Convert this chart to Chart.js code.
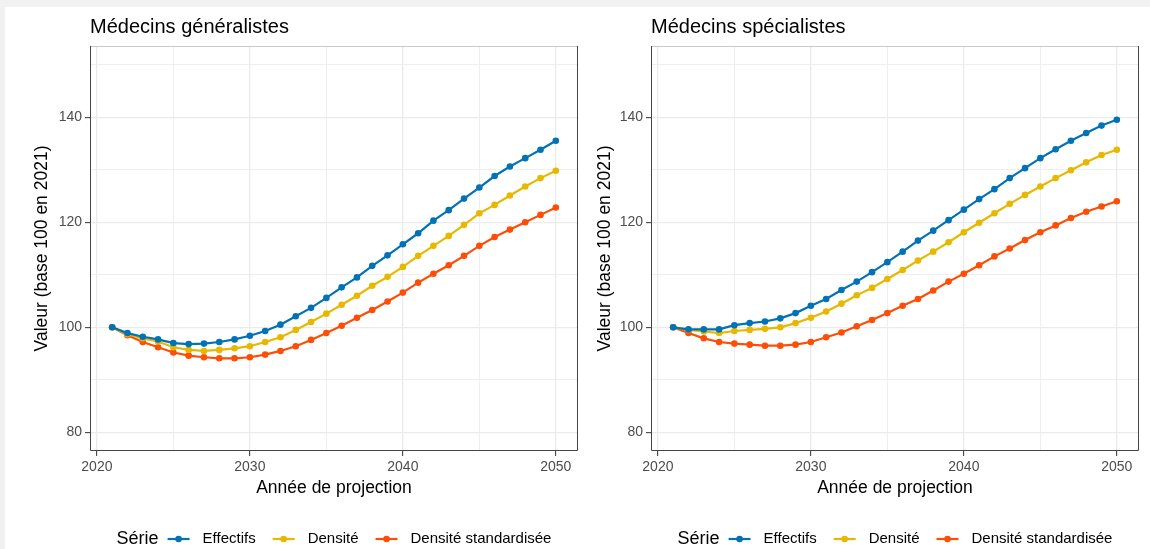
<!DOCTYPE html>
<html lang="fr">
<head>
<meta charset="utf-8">
<title>Projection des médecins</title>
<script src="https://cdn.jsdelivr.net/npm/chart.js@4.4.1/dist/chart.umd.min.js"></script>
<style>
  html, body { margin: 0; padding: 0; background: #f1f1f1; }
  body { width: 1150px; height: 549px; position: relative; overflow: hidden; }
  #card { position: absolute; left: 5px; top: 7px; right: 0; bottom: 0; background: #fff; }
  canvas { position: absolute; top: 0; }
  #cGen { left: 0; }
  #cSpe { left: 592px; }
</style>
</head>
<body>
<div id="card"></div>
<canvas id="cGen" width="592" height="549"></canvas>
<canvas id="cSpe" width="558" height="549"></canvas>
<script>
// années de projection
const annees = [2021, 2022, 2023, 2024, 2025, 2026, 2027, 2028, 2029, 2030,
  2031, 2032, 2033, 2034, 2035, 2036, 2037, 2038, 2039, 2040,
  2041, 2042, 2043, 2044, 2045, 2046, 2047, 2048, 2049, 2050];

const series = ["Effectifs", "Densité", "Densité standardisée"];
const couleurs = ["#0072B5", "#E7B800", "#FC4E07"];

// médecins généralistes
const genEffectifs = [100, 98.9, 98.2, 97.7, 97.0, 96.8, 96.9, 97.2, 97.7, 98.4,
  99.3, 100.5, 102.1, 103.7, 105.6, 107.6, 109.5, 111.7, 113.7, 115.8,
  117.9, 120.3, 122.3, 124.5, 126.6, 128.8, 130.6, 132.2, 133.8, 135.5];
const genDensite = [100, 98.7, 97.9, 97.3, 96.2, 95.7, 95.5, 95.7, 96.0, 96.4,
  97.2, 98.1, 99.5, 101.0, 102.6, 104.3, 106.0, 107.9, 109.6, 111.5,
  113.6, 115.5, 117.4, 119.5, 121.7, 123.3, 125.1, 126.8, 128.4, 129.8];
const genStandard = [100, 98.5, 97.2, 96.2, 95.2, 94.6, 94.3, 94.1, 94.1, 94.3,
  94.8, 95.5, 96.4, 97.6, 98.9, 100.3, 101.8, 103.3, 104.9, 106.6,
  108.5, 110.2, 111.8, 113.6, 115.5, 117.2, 118.6, 120.0, 121.4, 122.8];

// médecins spécialistes
const speEffectifs = [100, 99.6, 99.6, 99.6, 100.4, 100.8, 101.1, 101.7, 102.7, 104.1,
  105.4, 107.1, 108.7, 110.5, 112.4, 114.4, 116.5, 118.4, 120.4, 122.4,
  124.4, 126.3, 128.4, 130.3, 132.2, 133.9, 135.5, 137.0, 138.4, 139.5];
const speDensite = [100, 99.5, 99.2, 98.9, 99.3, 99.5, 99.7, 100.0, 100.8, 101.8,
  103.0, 104.5, 106.1, 107.5, 109.2, 110.9, 112.7, 114.4, 116.2, 118.1,
  119.9, 121.7, 123.5, 125.2, 126.8, 128.4, 129.9, 131.4, 132.8, 133.8];
const speStandard = [100, 98.9, 97.9, 97.2, 96.9, 96.7, 96.5, 96.5, 96.7, 97.2,
  98.1, 99.0, 100.2, 101.4, 102.7, 104.1, 105.4, 107.0, 108.7, 110.2,
  111.8, 113.5, 115.0, 116.6, 118.1, 119.4, 120.8, 122.0, 123.0, 124.0];

const xTicks = [2020, 2025, 2030, 2035, 2040, 2045, 2050];
const yTicks = [80, 90, 100, 110, 120, 130, 140, 150];

const POLICE = '"Liberation Sans", Arial, Helvetica, sans-serif';

// titre du panneau, aligné sur la zone de tracé (comme ggplot)
const titrePlugin = {
  id: "titrePanneau",
  afterDraw(chart, args, opts) {
    const { ctx, chartArea } = chart;
    ctx.save();
    ctx.font = "20px " + POLICE;
    ctx.fillStyle = "#000";
    ctx.textBaseline = "alphabetic";
    ctx.textAlign = "left";
    ctx.fillText(opts.text, chartArea.left, 33);
    ctx.restore();
  },
};

// cadre du panneau
const cadrePlugin = {
  id: "cadre",
  afterDraw(chart) {
    const { ctx, chartArea: a } = chart;
    ctx.save();
    ctx.lineWidth = 1;
    ctx.strokeStyle = "#c8c8c8";
    ctx.beginPath();
    ctx.moveTo(a.left, a.top + 0.5);
    ctx.lineTo(a.right, a.top + 0.5);
    ctx.stroke();
    ctx.strokeStyle = "#444";
    ctx.beginPath();
    ctx.moveTo(a.left + 0.5, a.top);
    ctx.lineTo(a.left + 0.5, a.bottom - 0.5);
    ctx.lineTo(a.right - 0.5, a.bottom - 0.5);
    ctx.lineTo(a.right - 0.5, a.top);
    ctx.stroke();
    ctx.restore();
  },
};

// légende "Série" façon ggplot, centrée sous le panneau
const legendePlugin = {
  id: "legendeSerie",
  afterDraw(chart) {
    const { ctx, chartArea } = chart;
    const y = 539;
    const keyW = 22, gapTitre = 9, gapKey = 13, gapItem = 17;
    ctx.save();
    ctx.textBaseline = "middle";
    ctx.textAlign = "left";
    ctx.font = "18px " + POLICE;
    const wTitre = ctx.measureText("Série").width;
    ctx.font = "15px " + POLICE;
    const wLab = series.map((s) => ctx.measureText(s).width);
    let total = wTitre + gapTitre;
    wLab.forEach((w, i) => {
      total += keyW + gapKey + w + (i < wLab.length - 1 ? gapItem : 0);
    });
    let x = (chartArea.left + chartArea.right) / 2 - total / 2;

    ctx.fillStyle = "#000";
    ctx.font = "18px " + POLICE;
    ctx.fillText("Série", x, y);
    x += wTitre + gapTitre;

    ctx.font = "15px " + POLICE;
    series.forEach((s, i) => {
      ctx.strokeStyle = couleurs[i];
      ctx.fillStyle = couleurs[i];
      ctx.lineWidth = 2.2;
      ctx.beginPath();
      ctx.moveTo(x, y);
      ctx.lineTo(x + keyW, y);
      ctx.stroke();
      ctx.beginPath();
      ctx.arc(x + keyW / 2, y, 3.3, 0, Math.PI * 2);
      ctx.fill();
      x += keyW + gapKey;
      ctx.fillStyle = "#000";
      ctx.fillText(s, x, y);
      x += wLab[i] + gapItem;
    });
    ctx.restore();
  },
};

function makeChart(id, titre, valeurs, yWidth, padRight, yTitlePad) {
  const datasets = valeurs.map((vals, i) => ({
    label: series[i],
    data: annees.map((a, k) => ({ x: a, y: vals[k] })),
    borderColor: couleurs[i],
    backgroundColor: couleurs[i],
    borderWidth: 2.2,
    pointRadius: 3.3,
    pointBorderWidth: 0,
    pointHoverRadius: 3.3,
    tension: 0,
  }));

  return new Chart(document.getElementById(id), {
    type: "line",
    data: { datasets },
    options: {
      responsive: false,
      animation: false,
      devicePixelRatio: 1,
      layout: { padding: { top: 46, right: padRight, left: 0, bottom: 0 } },
      plugins: {
        legend: { display: false },
        tooltip: { enabled: false },
        titrePanneau: { text: titre },
      },
      scales: {
        x: {
          type: "linear",
          min: 2019.55,
          max: 2051.45,
          afterBuildTicks: (s) => { s.ticks = xTicks.map((v) => ({ value: v })); },
          afterFit: (s) => { s.height = 98; },
          border: { display: false },
          grid: {
            color: "#ebebeb",
            lineWidth: (c) => (c.tick && c.tick.value % 10 === 0 ? 1.3 : 0.8),
            tickColor: (c) => (c.tick && c.tick.value % 10 === 0 ? "#333" : "rgba(0,0,0,0)"),
            tickLength: 5,
            tickWidth: 1,
          },
          ticks: {
            autoSkip: false,
            maxRotation: 0,
            padding: 3,
            color: "#4d4d4d",
            font: { family: POLICE, size: 14 },
            callback: (v) => (v % 10 === 0 ? String(v) : ""),
          },
          title: {
            display: true,
            text: "Année de projection",
            color: "#000",
            font: { family: POLICE, size: 17.5 },
            padding: { top: 0, bottom: 50.5 },
          },
        },
        y: {
          min: 76.45,
          max: 153.55,
          afterBuildTicks: (s) => { s.ticks = yTicks.map((v) => ({ value: v })); },
          afterFit: (s) => { s.width = yWidth; },
          border: { display: false },
          grid: {
            color: "#ebebeb",
            lineWidth: (c) => (c.tick && c.tick.value % 20 === 0 ? 1.3 : 0.8),
            tickColor: (c) => (c.tick && c.tick.value % 20 === 0 ? "#333" : "rgba(0,0,0,0)"),
            tickLength: 5,
            tickWidth: 1,
          },
          ticks: {
            padding: 3,
            color: "#4d4d4d",
            font: { family: POLICE, size: 14 },
            callback: (v) => (v % 20 === 0 ? String(v) : ""),
          },
          title: {
            display: true,
            text: "Valeur (base 100 en 2021)",
            color: "#000",
            font: { family: POLICE, size: 17.5 },
            padding: { top: yTitlePad, bottom: 0 },
          },
        },
      },
    },
    plugins: [titrePlugin, cadrePlugin, legendePlugin],
  });
}

makeChart("cGen", "Médecins généralistes", [genEffectifs, genDensite, genStandard], 90, 14, 31.5);
makeChart("cSpe", "Médecins spécialistes", [speEffectifs, speDensite, speStandard], 59, 11, 2.5);
</script>
</body>
</html>
